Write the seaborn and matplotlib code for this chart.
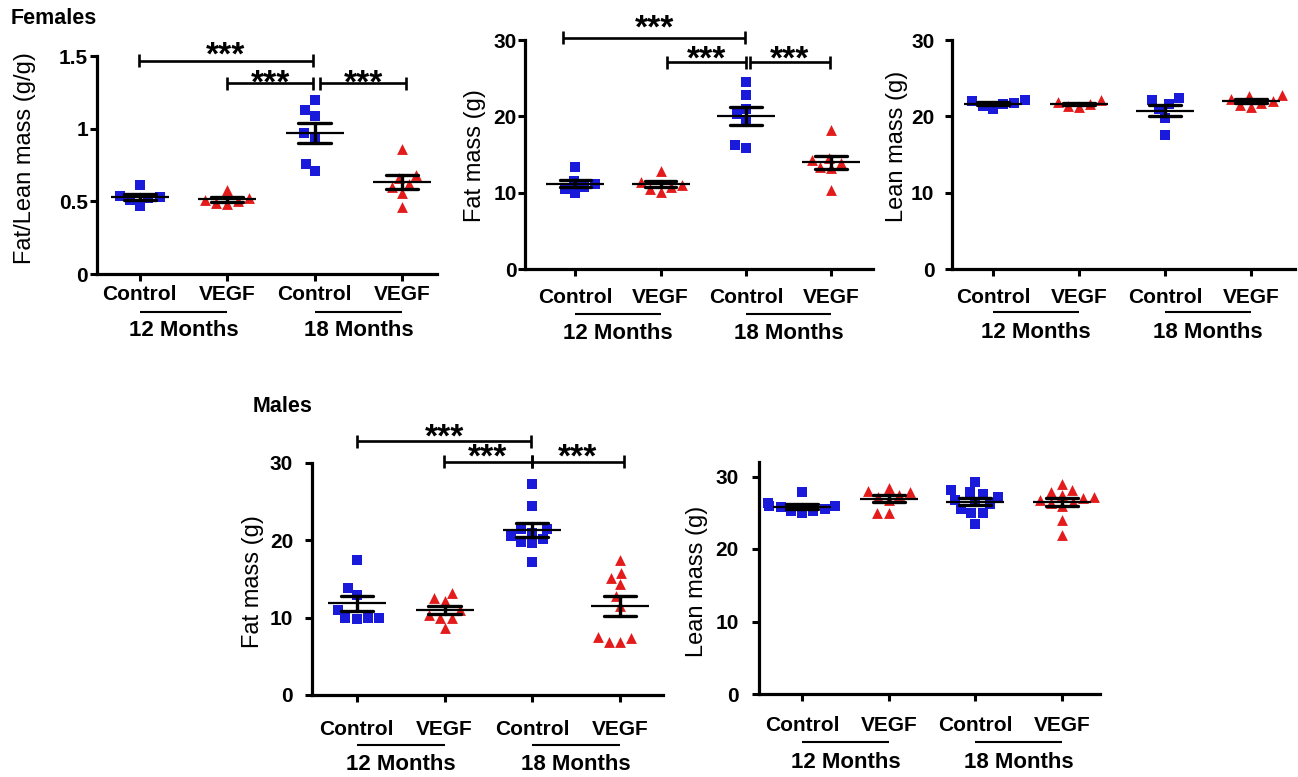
import matplotlib
matplotlib.use("Agg")
import matplotlib.pyplot as plt
import matplotlib.transforms as mtransforms
import seaborn as sns
import pandas as pd

W, H = 1298, 777
BLUE = "#1a1adb"
RED = "#e41b1b"

conds = ["12 Control", "12 VEGF", "18 Control", "18 VEGF"]
treats = ["Control", "VEGF", "Control", "VEGF"]
month_names = ["12 Months", "18 Months"]

# Females, fat/lean ratio (g/g)
fr_12c = [0.61, 0.54, 0.53, 0.52, 0.51, 0.47]
fr_12v = [0.58, 0.52, 0.51, 0.50, 0.49, 0.48]
fr_18c = [1.20, 1.13, 1.09, 0.97, 0.94, 0.76, 0.71]
fr_18v = [0.86, 0.68, 0.66, 0.62, 0.60, 0.56, 0.46]

# Females, fat mass (g)
ff_12c = [13.3, 11.5, 11.2, 10.8, 10.5, 9.9]
ff_12v = [12.8, 11.4, 11.0, 10.8, 10.5, 10.1]
ff_18c = [24.5, 22.8, 21.0, 20.3, 19.5, 16.3, 15.8]
ff_18v = [18.2, 14.6, 14.3, 13.9, 13.3, 13.2, 10.4]

# Females, lean mass (g)
fl_12c = [22.2, 22.0, 21.8, 21.6, 21.4, 20.9]
fl_12v = [22.1, 21.9, 21.6, 21.3, 21.2]
fl_18c = [22.4, 22.1, 21.6, 21.0, 19.8, 17.5]
fl_18v = [22.8, 22.6, 22.3, 22.0, 21.8, 21.5, 21.2]

# Males, fat mass (g)
mf_12c = [17.5, 13.8, 12.9, 11.0, 10.0, 10.0, 9.9, 9.8]
mf_12v = [13.2, 12.6, 12.2, 11.0, 10.3, 10.0, 9.9, 8.6]
mf_18c = [27.3, 24.5, 21.5, 21.5, 21.0, 20.5, 20.2, 19.8, 19.6, 17.2]
mf_18v = [17.4, 15.8, 15.1, 14.3, 12.8, 11.5, 7.5, 7.4, 6.9, 6.9]

# Males, lean mass (g)
ml_12c = [27.8, 26.3, 26.0, 25.9, 25.8, 25.5, 25.3, 25.2, 24.9]
ml_12v = [28.4, 28.0, 27.8, 27.5, 27.2, 26.8, 25.0, 25.0]
ml_18c = [29.3, 28.2, 27.8, 27.6, 27.2, 26.8, 26.5, 26.2, 25.5, 25.0, 24.9, 23.5]
ml_18v = [29.0, 28.1, 27.8, 27.5, 27.2, 27.1, 26.8, 26.5, 26.3, 26.0, 24.0, 22.0]


def make_df(groups):
    rows = []
    for cond, treat, vals in zip(conds, treats, groups):
        for v in vals:
            rows.append({"cond": cond, "treat": treat, "value": v})
    return pd.DataFrame(rows)


sns.set_style("ticks")
plt.rcParams["font.family"] = ["Liberation Sans", "DejaVu Sans"]
plt.rcParams["font.weight"] = "bold"
for key in ("text.color", "axes.labelcolor", "xtick.color", "ytick.color",
            "axes.edgecolor"):
    plt.rcParams[key] = "black"

fig = plt.figure(figsize=(W / 100, H / 100), dpi=100)


def panel(box, df, xlim, ylim, yticks, yticklabels, ylabel, ylab_px,
          xpad, ypad, line_off, month_off, brackets=()):
    l, t, r, b = box
    wpx, hpx = r - l, b - t
    ax = fig.add_axes([l / W, 1 - b / H, wpx / W, hpx / H])

    for treat, mk, col in (("Control", "s", BLUE), ("VEGF", "^", RED)):
        sns.swarmplot(data=df[df.treat == treat], x="cond", y="value",
                      order=conds, marker=mk, color=col, size=7.8,
                      linewidth=0, ax=ax, zorder=2)
    sns.pointplot(data=df, x="cond", y="value", order=conds, errorbar="se",
                  capsize=0.37, linestyle="none", marker="_", markersize=42,
                  markeredgewidth=1.6, color="black",
                  err_kws={"linewidth": 2.4}, ax=ax)

    ax.set_xlim(*xlim)
    ax.set_ylim(*ylim)
    ax.set_yticks(yticks)
    ax.set_yticklabels(yticklabels)
    ax.set_xticks(range(4))
    ax.set_xticklabels(treats)
    ax.set_xlabel("")
    ax.set_ylabel(ylabel, fontsize=17, fontweight="normal", va="center")
    ax.yaxis.set_label_coords((ylab_px[0] - l) / wpx, (b - ylab_px[1]) / hpx)

    sns.despine(ax=ax)
    for s in ("left", "bottom"):
        ax.spines[s].set_linewidth(2.3)
    ax.tick_params(axis="x", length=5, width=2.2, labelsize=15, pad=xpad)
    ax.tick_params(axis="y", length=5, width=2.2, labelsize=15, pad=ypad)

    # group lines and month labels under the tick labels
    trans = mtransforms.blended_transform_factory(ax.transData, ax.transAxes)
    for k, name in enumerate(month_names):
        ax.plot([2 * k, 2 * k + 1], [-line_off / hpx] * 2, transform=trans,
                color="black", lw=1.5, clip_on=False, solid_capstyle="butt")
        ax.text(2 * k + 0.5, -month_off / hpx, name, transform=trans,
                ha="center", va="center", fontsize=16, fontweight="bold")

    # significance brackets
    cap = (ylim[1] - ylim[0]) * 6.5 / hpx
    for x1, x2, yb, ys in brackets:
        kw = dict(color="black", lw=1.9, clip_on=False, solid_capstyle="butt")
        ax.plot([x1, x2], [yb, yb], **kw)
        ax.plot([x1, x1], [yb - cap, yb + cap], **kw)
        ax.plot([x2, x2], [yb - cap, yb + cap], **kw)
        ax.annotate("***", xy=((x1 + x2) / 2, ys), xytext=(0, -7),
                    textcoords="offset points", ha="center", va="center",
                    fontsize=24, fontweight="bold", annotation_clip=False)
    return ax


panel((97, 56, 437, 274), make_df([fr_12c, fr_12v, fr_18c, fr_18v]),
      (-0.49, 3.4), (0, 1.5), [0, 0.5, 1, 1.5], ["0", "0.5", "1", "1.5"],
      "Fat/Lean mass (g/g)", (25, 158), 2.6, 1.5, 38, 56,
      [(-0.01, 1.98, 1.466, 1.564), (1.0, 1.98, 1.312, 1.371),
       (2.06, 3.05, 1.312, 1.371)])

panel((525, 40, 873, 269), make_df([ff_12c, ff_12v, ff_18c, ff_18v]),
      (-0.59, 3.49), (0, 30), [0, 10, 20, 30], ["0", "10", "20", "30"],
      "Fat mass (g)", (475, 156), 8.4, 1.0, 45, 64,
      [(-0.14, 1.99, 30.3, 32.75), (1.07, 2.0, 27.08, 28.6),
       (2.05, 2.98, 27.08, 28.6)])

panel((952, 40, 1295, 269), make_df([fl_12c, fl_12v, fl_18c, fl_18v]),
      (-0.48, 3.51), (0, 30), [0, 10, 20, 30], ["0", "10", "20", "30"],
      "Lean mass (g)", (897, 146), 8.4, 7.7, 43, 63)

panel((312, 463, 663, 695), make_df([mf_12c, mf_12v, mf_18c, mf_18v]),
      (-0.51, 3.49), (0, 30), [0, 10, 20, 30], ["0", "10", "20", "30"],
      "Fat mass (g)", (253, 582), 12.7, 8.6, 50, 70,
      [(0.0, 1.99, 32.8, 34.5), (0.99, 2.0, 30.13, 31.86),
       (2.0, 3.04, 30.13, 31.86)])

panel((759, 462, 1100, 694), make_df([ml_12c, ml_12v, ml_18c, ml_18v]),
      (-0.5, 3.44), (0, 32), [0, 10, 20, 30], ["0", "10", "20", "30"],
      "Lean mass (g)", (697, 581), 10.5, 9.5, 48, 68)

fig.text(11 / W, 1 - 19 / H, "Females", ha="left", va="center",
         fontsize=15.5, fontweight="bold")
fig.text(253 / W, 1 - 407 / H, "Males", ha="left", va="center",
         fontsize=15.5, fontweight="bold")

fig.savefig("out.png", dpi=100)
